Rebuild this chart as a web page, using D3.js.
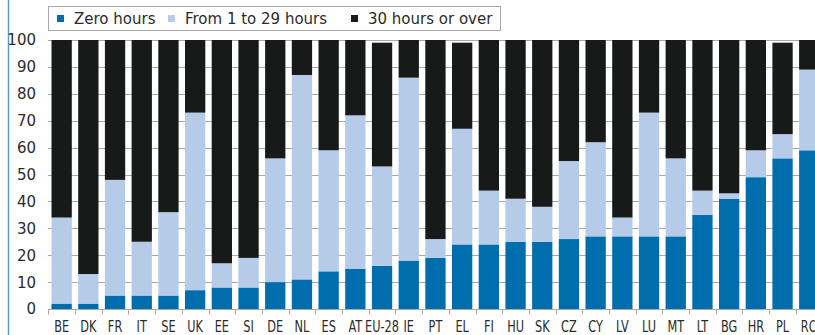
<!DOCTYPE html>
<html>
<head>
<meta charset="utf-8">
<script src="https://cdn.jsdelivr.net/npm/d3@7/dist/d3.min.js"></script>
<style>
  html, body { margin: 0; padding: 0; background: #fff; }
  svg { display: block; }
</style>
</head>
<body>
<svg id="chart" width="815" height="335"></svg>
<script>
// Countries, ordered by share of "Zero hours"
const categories = ["BE","DK","FR","IT","SE","UK","EE","SI","DE","NL","ES","AT","EU-28","IE","PT","EL","FI","HU","SK","CZ","CY","LV","LU","MT","LT","BG","HR","PL","RO"];

// Shares (%) per band of hours
const zeroHours   = [2, 2, 5, 5, 5, 7, 8, 8, 10, 11, 14, 15, 16, 18, 19, 24, 24, 25, 25, 26, 27, 27, 27, 27, 35, 41, 49, 56, 59];
const from1to29   = [32, 11, 43, 20, 31, 66, 9, 11, 46, 76, 45, 57, 37, 68, 7, 43, 20, 16, 13, 29, 35, 7, 46, 29, 9, 2, 10, 9, 30];
const thirtyPlus  = [66, 87, 52, 75, 64, 27, 83, 81, 44, 13, 41, 28, 46, 14, 74, 32, 56, 59, 62, 45, 38, 66, 27, 44, 56, 57, 41, 34, 11];

const yTicks = [0, 10, 20, 30, 40, 50, 60, 70, 80, 90, 100];

const seriesNames = ["Zero hours", "From 1 to 29 hours", "30 hours or over"];
const seriesColors = ["#006eac", "#b5cbe8", "#181a19"];

const rows = categories.map((c, i) => ({
  cat: c,
  "Zero hours": zeroHours[i],
  "From 1 to 29 hours": from1to29[i],
  "30 hours or over": thirtyPlus[i]
}));

const svg = d3.select("#chart");

const x = d3.scaleBand()
  .domain(categories)
  .range([48.3, 48.3 + 26.7 * categories.length])
  .paddingInner(0.24)
  .paddingOuter(0.12);

const y = d3.scaleLinear().domain([0, 100]).range([309, 40]);

// frame line on the left
svg.append("line")
  .attr("x1", 8.5).attr("x2", 8.5).attr("y1", 0).attr("y2", 335)
  .attr("stroke", "#5b9bd0").attr("stroke-width", 1.5);

// horizontal gridlines
svg.append("g")
  .selectAll("line")
  .data(yTicks.filter(d => d > 0))
  .join("line")
  .attr("x1", 48).attr("x2", 815)
  .attr("y1", d => Math.round(y(d)) + 0.5)
  .attr("y2", d => Math.round(y(d)) + 0.5)
  .attr("stroke", "#a9a9a9").attr("stroke-width", 1);

// y tick labels
svg.append("g")
  .selectAll("text")
  .data(yTicks)
  .join("text")
  .attr("x", 36)
  .attr("y", d => y(d))
  .attr("dy", "0.36em")
  .attr("text-anchor", "end")
  .attr("font-family", "DejaVu Sans, Verdana, sans-serif")
  .attr("font-size", 15)
  .attr("fill", "#2b2b2b")
  .text(d => d);

// stacked bars
const stack = d3.stack().keys(seriesNames);
const layers = stack(rows);

svg.append("g")
  .selectAll("g")
  .data(layers)
  .join("g")
  .attr("fill", (d, i) => seriesColors[i])
  .selectAll("rect")
  .data(d => d)
  .join("rect")
  .attr("x", d => x(d.data.cat))
  .attr("width", x.bandwidth())
  .attr("y", d => y(d[1]))
  .attr("height", d => y(d[0]) - y(d[1]));

// x axis baseline and ticks between bands
const axisY = Math.round(y(0)) + 0.5;
svg.append("line")
  .attr("x1", 48).attr("x2", 815)
  .attr("y1", axisY).attr("y2", axisY)
  .attr("stroke", "#a9a9a9").attr("stroke-width", 1);

const step = x.step();
const x0 = x.range()[0];
svg.append("g")
  .selectAll("line")
  .data(d3.range(categories.length + 1))
  .join("line")
  .attr("x1", i => Math.round(x0 + i * step) + 0.5)
  .attr("x2", i => Math.round(x0 + i * step) + 0.5)
  .attr("y1", axisY).attr("y2", axisY + 5)
  .attr("stroke", "#a9a9a9").attr("stroke-width", 1);

// x tick labels, narrow lettering
svg.append("g")
  .selectAll("text")
  .data(categories)
  .join("text")
  .attr("transform", d => `translate(${x(d) + x.bandwidth() / 2},332) scale(0.84,1)`)
  .attr("text-anchor", "middle")
  .attr("font-family", "DejaVu Sans Condensed, sans-serif")
  .attr("font-stretch", "condensed")
  .attr("font-size", 15)
  .attr("fill", "#2b2b2b")
  .text(d => d);

// legend
const legend = svg.append("g");
legend.append("rect")
  .attr("x", 48.5).attr("y", 6.5).attr("width", 452).attr("height", 24)
  .attr("fill", "#fff").attr("stroke", "#a9a9a9");

const legendX = [57, 168, 351];
seriesNames.forEach((name, i) => {
  legend.append("rect")
    .attr("x", legendX[i]).attr("y", 15).attr("width", 7).attr("height", 7)
    .attr("fill", seriesColors[i]);
  legend.append("text")
    .attr("x", legendX[i] + 17).attr("y", 24)
    .attr("font-family", "DejaVu Sans, Verdana, sans-serif")
    .attr("font-size", 15)
    .attr("fill", "#2b2b2b")
    .text(name);
});
</script>
</body>
</html>
